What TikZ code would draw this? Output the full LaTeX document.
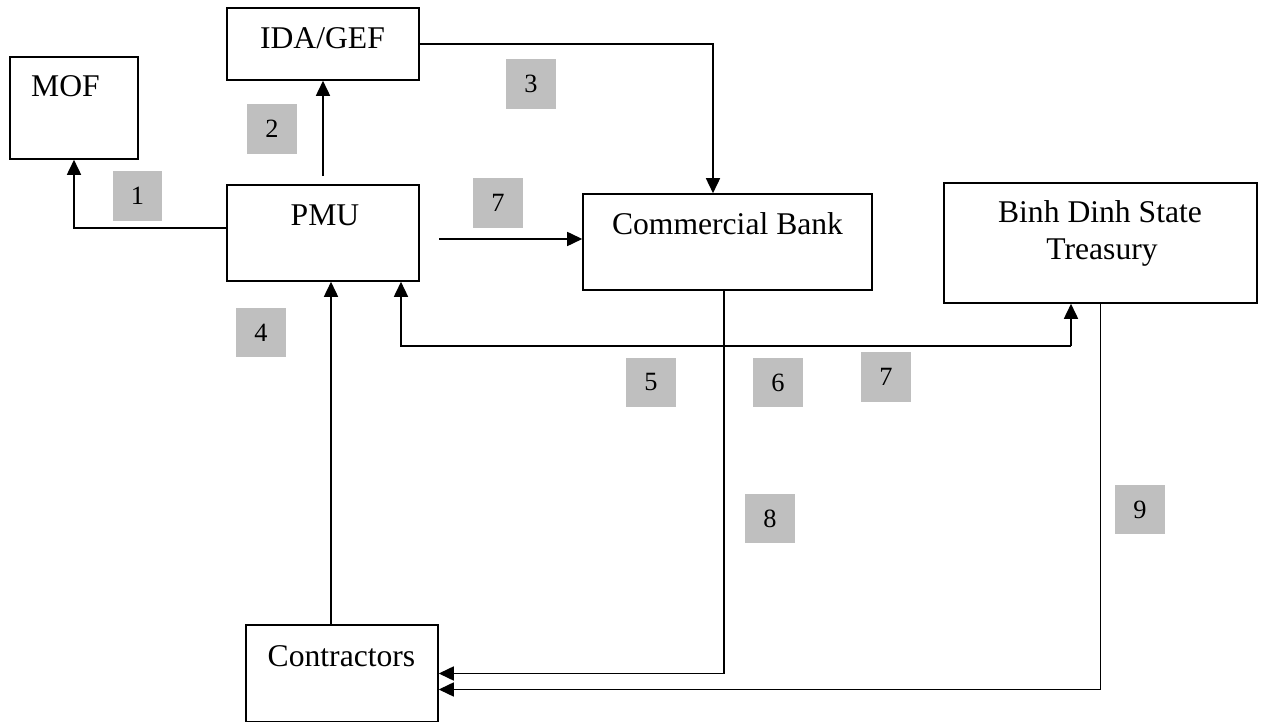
\documentclass[tikz,border=0pt]{standalone}
\usepackage{fontspec}
\setmainfont{Liberation Serif}
\usetikzlibrary{arrows.meta}

\begin{document}
\begin{tikzpicture}[x=0.02cm, y=-0.02cm,
  box/.style={draw, line width=0.9pt, inner sep=0pt},
  txt/.style={font=\fontsize{18}{21}\selectfont, inner sep=0pt, anchor=base},
  num/.style={fill=black!25, minimum size=1cm, inner sep=0pt,
    font=\fontsize{15}{17}\selectfont},
  arr/.style={line width=0.9pt, -{Triangle[length=0.3cm, width=0.28cm]}}]
  \useasboundingbox (0,0) rectangle (1262,722);
  % boxes
  \node[box, minimum width=2.56cm, minimum height=2.04cm] (mof) at (74,108) {};
  \node[box, minimum width=3.84cm, minimum height=1.44cm] (ida) at (323,44) {};
  \node[box, minimum width=3.84cm, minimum height=1.92cm] (pmu) at (323,233) {};
  \node[box, minimum width=5.78cm, minimum height=1.92cm] (cb) at (727.5,242) {};
  \node[box, minimum width=6.26cm, minimum height=2.4cm] (tr) at (1100.5,243) {};
  \node[box, minimum width=3.84cm, minimum height=1.94cm] (con) at (342,673.5) {};
  % texts in the boxes
  \node[txt] (mof-t) at (65.5,97) {MOF};
  \node[txt] (ida-t) at (322.5,49) {IDA/GEF};
  \node[txt] (pmu-t) at (325,226) {PMU};
  \node[txt] (cb-t) at (727.5,235) {Commercial Bank};
  \node[txt] (tr-t1) at (1100,223) {Binh Dinh State};
  \node[txt] (tr-t2) at (1102,260) {Treasury};
  \node[txt] (con-t) at (341.5,667) {Contractors};
  % flows
  \draw[arr] ([yshift=0.1cm]pmu.west) -| (mof.south);
  \draw[arr] ([yshift=0.16cm]pmu.north) -- (ida.south);
  \draw[arr] (ida.east) -| ([xshift=-0.29cm]cb.north);
  \coordinate (s7) at (439,239);
  \draw[arr] (s7) -- (s7 -| cb.west);
  \coordinate (j) at (1071,346);
  \draw[arr] (j) -| ([xshift=1.56cm]pmu.south);
  \draw[arr] (j) -- (j |- tr.south);
  \coordinate (c4) at ([xshift=-0.22cm]con.north);
  \draw[arr] (c4) -- (c4 |- pmu.south);
  \draw[arr] ([xshift=-0.07cm]cb.south) |- (con.east);
  \draw[arr] (tr.south) |- ([yshift=-0.32cm]con.east);
  % step numbers
  \node[num] (n1) at (137.5,196) {1};
  \node[num] (n2) at (272,129) {2};
  \node[num] (n3) at (531,84) {3};
  \node[num] (n7a) at (498,203) {7};
  \node[num] (n4) at (261,332.5) {4};
  \node[num] (n5) at (651,382.5) {5};
  \node[num] (n6) at (778,382.5) {6};
  \node[num] (n7b) at (886,377) {7};
  \node[num] (n8) at (770,518.5) {8};
  \node[num] (n9) at (1140,509.5) {9};
\end{tikzpicture}
\end{document}
